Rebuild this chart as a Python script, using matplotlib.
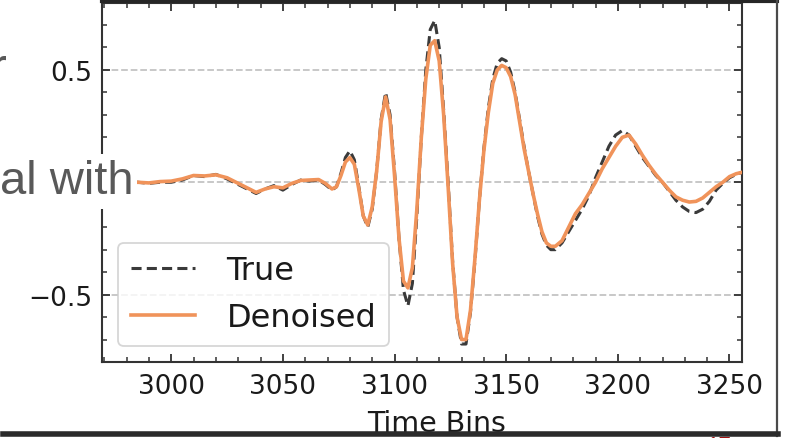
import matplotlib
matplotlib.use('Agg')
import matplotlib.pyplot as plt
from matplotlib.ticker import MultipleLocator
from matplotlib.lines import Line2D
from matplotlib.patches import Rectangle

plt.rcParams['font.family'] = ['DejaVu Sans']

# ---------------- data ----------------
t_true = [2970, 2975, 2980, 2985, 2990, 2995, 3000, 3005, 3010, 3015, 3020, 3025, 3030, 3035,
          3038, 3042, 3046, 3050, 3054, 3058, 3062, 3066, 3069, 3072, 3074, 3076, 3078, 3080,
          3082, 3084, 3086, 3088, 3090, 3092, 3094, 3096, 3098, 3100, 3102, 3104, 3106, 3108,
          3110, 3112, 3114, 3116, 3118, 3120, 3122, 3124, 3126, 3128, 3130, 3132, 3134, 3136,
          3138, 3140, 3142, 3144, 3146, 3148, 3150, 3152, 3154, 3156, 3158, 3160, 3162, 3164,
          3166, 3168, 3170, 3172, 3175, 3178, 3181, 3184, 3187, 3190, 3193, 3196, 3199, 3202,
          3205, 3208, 3211, 3214, 3217, 3220, 3223, 3226, 3229, 3232, 3235, 3238, 3241, 3244,
          3247, 3250, 3253, 3256]
v_true = [0.0, 0.0, -0.005, 0.0, -0.005, 0.0, 0.0, 0.01, 0.03, 0.025, 0.035, 0.015, -0.01, -0.035,
          -0.05, -0.03, -0.015, -0.035, -0.01, 0.01, 0.005, 0.01, -0.01, -0.035, -0.02, 0.04, 0.11, 0.14,
          0.10, -0.02, -0.15, -0.20, -0.12, 0.05, 0.28, 0.40, 0.30, 0.05, -0.25, -0.48, -0.55, -0.45,
          -0.15, 0.20, 0.50, 0.68, 0.72, 0.60, 0.32, 0.0, -0.35, -0.60, -0.72, -0.72, -0.58, -0.35,
          -0.08, 0.15, 0.33, 0.46, 0.53, 0.55, 0.54, 0.49, 0.40, 0.28, 0.16, 0.05, -0.05, -0.15,
          -0.23, -0.28, -0.30, -0.30, -0.27, -0.22, -0.17, -0.12, -0.06, 0.02, 0.09, 0.16, 0.21, 0.23,
          0.21, 0.16, 0.11, 0.07, 0.03, 0.0, -0.04, -0.08, -0.11, -0.13, -0.135, -0.12, -0.085, -0.035,
          -0.005, 0.02, 0.035, 0.045]

t_den = t_true
v_den = [0.0, 0.0, -0.005, 0.0, -0.003, 0.003, 0.005, 0.015, 0.03, 0.028, 0.033, 0.02, -0.005, -0.03,
         -0.045, -0.03, -0.02, -0.025, -0.005, 0.008, 0.01, 0.012, -0.005, -0.03, -0.02, 0.03, 0.09, 0.11,
         0.08, -0.03, -0.15, -0.19, -0.11, 0.05, 0.27, 0.38, 0.28, 0.03, -0.25, -0.44, -0.47, -0.38,
         -0.12, 0.20, 0.46, 0.61, 0.63, 0.54, 0.30, -0.02, -0.36, -0.60, -0.70, -0.70, -0.57, -0.34,
         -0.08, 0.14, 0.31, 0.44, 0.50, 0.52, 0.51, 0.47, 0.39, 0.27, 0.15, 0.05, -0.05, -0.14,
         -0.22, -0.27, -0.285, -0.285, -0.26, -0.20, -0.14, -0.10, -0.05, 0.0, 0.06, 0.11, 0.16, 0.20,
         0.21, 0.17, 0.12, 0.075, 0.035, 0.0, -0.035, -0.065, -0.08, -0.088, -0.085, -0.07, -0.045, -0.02,
         0.0, 0.025, 0.038, 0.045]

x_ticks = [3000, 3050, 3100, 3150, 3200, 3250]
y_ticks = [-0.5, 0.0, 0.5]

# ---------------- figure ----------------
W, H = 790, 439
fig = plt.figure(figsize=(W / 100, H / 100), dpi=100)
fig.patch.set_facecolor('white')
ax = fig.add_axes([102 / W, 1 - 363 / H, 640 / W, (363 - 3.5) / H])

ax.plot(t_true, v_true, ls='--', dashes=(3.3, 1.7), color='#3a3a3a', lw=2.2, label='True', zorder=3)
ax.plot(t_den, v_den, ls='-', color='#F0935A', lw=2.6, label='Denoised', zorder=4)

ax.set_xlim(2969, 3255.6)
ax.set_ylim(-0.8, 0.8)
ax.set_xticks(x_ticks)
ax.set_yticks(y_ticks)
ax.xaxis.set_minor_locator(MultipleLocator(10))
ax.yaxis.set_minor_locator(MultipleLocator(0.1))
ax.tick_params(which='both', direction='in', top=True, right=True, color='#333333')
ax.tick_params(which='major', length=6, width=1.3, labelsize=19, labelcolor='#1a1a1a')
ax.tick_params(which='minor', length=3.5, width=1.1)
ax.tick_params(axis='x', which='major', pad=8)
ax.tick_params(axis='y', which='major', pad=7)
for s in ax.spines.values():
    s.set_color('#333333')
    s.set_linewidth(1.5)

ax.set_axisbelow(True)
ax.yaxis.grid(True, which='major', ls='--', color='#c4c4c4', lw=1.3)

ax.set_xlabel('Time Bins', fontsize=20.5, color='#1a1a1a')
ax.xaxis.set_label_coords((437 - 102) / 640, (363 - 410) / 359.5)

leg = ax.legend(loc='lower left', fontsize=23, frameon=True, fancybox=True, framealpha=0.8,
                edgecolor='#cccccc', borderaxespad=0.5, handlelength=2, handletextpad=1.0)
leg.get_frame().set_linewidth(1.3)
for txt in leg.get_texts():
    txt.set_color('#1a1a1a')

# ---------------- slide artifacts ----------------
def fx(px):
    return px / W

def fy(py):
    return 1 - py / H

tf = fig.transFigure
fig.add_artist(Line2D([fx(102), fx(777)], [fy(2), fy(2)], transform=tf, color='#262626', lw=3.0))
fig.add_artist(Line2D([fx(777), fx(777)], [fy(0), fy(437)], transform=tf, color='#4a4a4a', lw=1.6))
fig.add_artist(Line2D([fx(3), fx(778)], [fy(434.5), fy(434.5)], transform=tf, color='#2b2b2b', lw=4.0))

fig.add_artist(Rectangle((0, fy(210)), fx(137), (210 - 155) / H, transform=tf,
                         facecolor='white', edgecolor='none', zorder=5))
fig.text(fx(134), fy(194), 'al with', transform=tf, ha='right', va='baseline',
         fontsize=34, family=['Liberation Sans'], color='#595959', zorder=6)
fig.text(fx(7), fy(81), 'r', transform=tf, ha='right', va='baseline',
         fontsize=34, family=['Liberation Sans'], color='#595959', zorder=6)
fig.text(fx(706), fy(436.5), '17', transform=tf, ha='left', va='top',
         fontsize=16, family=['Liberation Sans'], color='#a01010', zorder=6)

fig.savefig('out.png', dpi=100)
